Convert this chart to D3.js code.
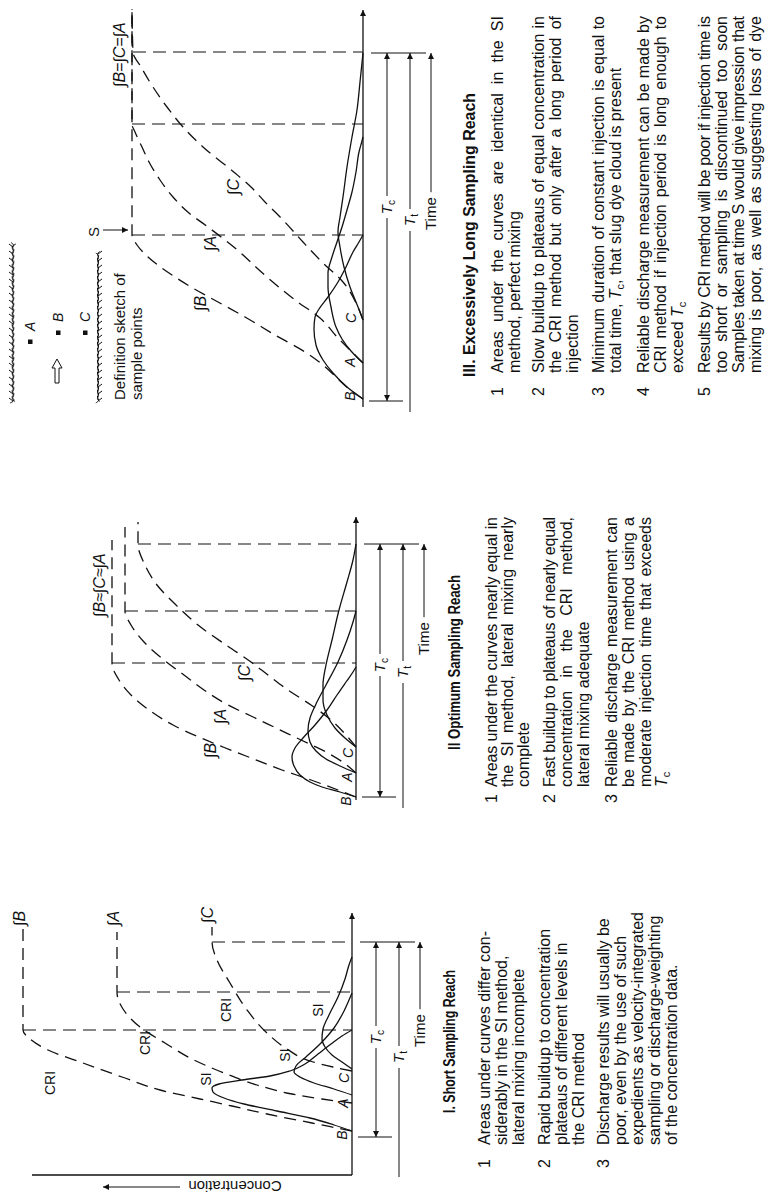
<!DOCTYPE html>
<html>
<head>
<meta charset="utf-8">
<script src="https://cdn.jsdelivr.net/npm/d3@7"></script>
<style>
  html, body { margin: 0; padding: 0; background: #fff; }
  svg { display: block; }
  .ink { fill: none; stroke: #111; stroke-width: 1.3; }
  .cri { stroke-dasharray: 12 7; }
  .drop { fill: none; stroke: #111; stroke-width: 1.1; stroke-dasharray: 13 7; }
  .thin { fill: none; stroke: #111; stroke-width: 1; }
  text { fill: #111; font-family: "Liberation Sans", Arial, Helvetica, sans-serif; }
</style>
</head>
<body>
<svg id="fig" width="765" height="1197"></svg>
<script>
// Each curve is a list of [time, concentration].
// Units are figure units measured from the panel's time-axis origin / baseline.

// ---- I. Short sampling reach ----
const siB1 = [[44,0],[50,18],[57,42],[64,75],[71,108],[77,128],[83,139],[87,140],[91,133],[95,110],[99,82],[104,62],[111,47],[121,34],[131,21],[139,10],[145,0]];
const siA1 = [[80,0],[86,18],[92,38],[98,52],[103,58],[109,56],[118,46],[132,31],[147,18],[162,9],[175,3],[182,0]];
const siC1 = [[106,0],[113,10],[120,20],[128,27],[136,30],[146,29],[160,23],[178,14],[196,7],[210,3],[218,0]];
const criB1 = [[44,0],[52,40],[61,85],[69,120],[76,152],[85,192],[98,230],[112,269],[125,304],[136,322],[145,329],[246,329]];
const criA1 = [[72,0],[76,30],[81,60],[90,95],[102,128],[116,160],[132,187],[148,212],[166,229],[183,235],[243,235]];
const criC1 = [[104,0],[108,19],[114,42],[126,65],[142,85],[165,105],[192,122],[215,135],[233,140],[248,140]];

// ---- II. Optimum sampling reach ----
const siB2 = [[3,0],[8,16],[13,34],[18,46],[25,56],[34,62],[43,64],[52,61],[62,53],[75,41],[90,29],[105,19],[118,10],[128,3],[133,0]];
const siA2 = [[27,0],[34,16],[41,30],[49,40],[58,46],[70,48],[82,46],[96,40],[115,30],[138,18],[160,9],[178,3],[189,0]];
const siC2 = [[53,0],[62,11],[72,21],[85,29],[100,33],[115,33],[135,30],[160,24],[190,17],[218,9],[240,3],[256,0]];
const criB2 = [[3,0],[10,18],[20,45],[30,74],[44,110],[53,133],[62,155],[75,183],[90,207],[105,225],[120,237],[137,244],[260,244]];
const criA2 = [[27,0],[37,12],[48,30],[60,55],[72,80],[84,105],[95,128],[110,152],[125,172],[140,192],[158,212],[175,225],[189,231],[273,231]];
const criC2 = [[53,0],[65,10],[80,25],[95,45],[110,68],[125,88],[138,105],[155,130],[175,158],[195,180],[215,199],[235,211],[256,218],[278,218]];

// ---- III. Excessively long sampling reach ----
const siB3 = [[8,0],[20,16],[34,30],[47,40],[62,47],[78,49],[90,48],[98,44],[110,35],[125,25],[140,17],[155,10],[165,4],[172,0]];
const siA3 = [[44,0],[56,12],[68,21],[80,27],[100,32],[120,35],[134,35],[150,31],[165,26],[180,21],[197,16],[215,11],[235,7],[255,4],[266,1],[270,0]];
const siC3 = [[87,0],[100,5],[120,13],[140,19],[160,23],[175,25],[190,23],[210,20],[240,16],[270,11],[297,6],[325,3],[354,0]];
const criB3 = [[8,0],[18,14],[30,27],[42,40],[55,58],[72,88],[90,118],[105,145],[120,172],[134,194],[150,215],[162,226],[172,231],[398,231]];
const criA3 = [[44,0],[54,10],[69,25],[89,43],[107,68],[130,96],[159,128],[180,155],[194,174],[210,190],[227,203],[245,214],[260,221],[275,228],[283,231],[398,231]];
const criC3 = [[87,0],[102,6],[125,20],[144,40],[165,60],[187,80],[205,98],[220,112],[234,128],[260,160],[280,180],[300,196],[320,210],[340,222],[355,230],[398,231]];

// labels on the plots: [text, time, concentration]
const methodLabels1 = [["CRI",92,302],["SI",96,146],["CRI",132,207],["SI",120,67],["CRI",165,126],["SI",165,34]];
const pointLabels1 = [["B",40,10],["A",72,9],["C",97,8]];
const intLabels1 = [["∫B",249,333],["∫A",249,239],["∫C",252,145]];
const pointLabels2 = [["B",-1,10],["A",23,9],["C",47,8]];
const intLabels2 = [["∫B",42,146],["∫A",76,136],["∫C",119,112],["∫B≈∫C≈∫A",183,257]];
const pointLabels3 = [["B",11,13],["A",45,13],["C",89,12]];
const intLabels3 = [["∫B",96,163],["∫A",156,153],["∫C",212,130],["∫B=∫C=∫A",320,244]];

// notes beside each panel
const notes1 = [
  ["1", "Areas under curves differ con-", "siderably in the SI method,", "lateral mixing incomplete"],
  ["2", "Rapid buildup to concentration", "plateaus of different levels in", "the CRI method"],
  ["3", "Discharge results will usually be", "poor, even by the use of such", "expedients as velocity-integrated", "sampling or discharge-weighting", " of the concentration data."]
];
const notes2 = [
  ["1", "Areas under the curves nearly equal in", "the SI method, lateral mixing nearly", "complete"],
  ["2", "Fast buildup to plateaus of nearly equal", "concentration in the CRI method,", "lateral mixing adequate"],
  ["3", "Reliable discharge measurement can", "be made by the CRI method using a", "moderate injection time that exceeds", "{c}"]
];
const notes3 = [
  ["1", "Areas under the curves are identical in the SI", "method, perfect mixing"],
  ["2", "Slow buildup to plateaus of equal concentration in", "the CRI method but only after a long period of", "injection"],
  ["3", "Minimum duration of constant injection is equal to", "total time, {c}, that slug dye cloud is present"],
  ["4", "Reliable discharge measurement can be made by", "CRI method if injection period is long enough to", "exceed {c}"],
  ["5", "Results by CRI method will be poor if injection time is", "too short or sampling is discontinued too soon", "Samples taken at time S would give impression that", "mixing is poor, as well as suggesting loss of dye"]
];

// ---------------- layout (page is drawn unrotated, then turned) ----------------
const W = 765, H = 1197;
const NARROW = '"Liberation Sans Narrow", "Arial Narrow", "Liberation Sans", sans-serif';

const panels = [
  { u0: 22, tMax: 262, vBase: 352, tcStart: 38, tEnd: 233, ttFrom: -2, tcLab: 138, ttLab: 118, timeLab: 128,
    si: [siB1, siA1, siC1], cri: [criB1, criA1, criC1], methods: methodLabels1, points: pointLabels1, ints: intLabels1,
    title: "I. Short Sampling Reach", titleU: [84, 227], titleV: 455,
    notes: notes1, numU: 29, textU: 52, colW: 0, lastFull: false,
    lineV: [[490,507,524],[550,567,584],[609,626,643,660,677]] },
  { u0: 397, tMax: 283, vBase: 356, tcStart: 3, tEnd: 256, ttFrom: -8, tcLab: 135, ttLab: 128, timeLab: 145,
    si: [siB2, siA2, siC2], cri: [criB2, criA2, criC2], methods: [], points: pointLabels2, ints: intLabels2,
    title: "II  Optimum Sampling Reach", titleU: [447, 622], titleV: 460,
    notes: notes2, numU: 394, textU: 410, colW: 270, lastFull: false,
    lineV: [[497,513,529],[555,572,589],[617,634,651,667]] },
  { u0: 790, tMax: 397, vBase: 363, tcStart: 6, tEnd: 354, ttFrom: -5, tcLab: 200, ttLab: 187, timeLab: 177,
    si: [siB3, siA3, siC3], cri: [criB3, criA3, criC3], methods: [], points: pointLabels3, ints: intLabels3,
    title: "III. Excessively Long Sampling Reach", titleU: [820, 1104], titleV: 475,
    notes: notes3, numU: 801, textU: 824, colW: 357, lastFull: true,
    lineV: [[503,520],[544,561,578],[604,621],[649,666,683],[710,727,744,761]] }
];

const svg = d3.select("#fig");
svg.append("rect").attr("width", W).attr("height", H).attr("fill", "#fff");

const defs = svg.append("defs");
defs.append("marker").attr("id", "ah")
  .attr("viewBox", "0 0 10 10").attr("refX", 10).attr("refY", 5)
  .attr("markerUnits", "userSpaceOnUse").attr("markerWidth", 8).attr("markerHeight", 6)
  .attr("orient", "auto-start-reverse")
  .append("path").attr("d", "M0,0 L10,5 L0,10 Z").attr("fill", "#111");

// the whole figure is printed sideways
const g = svg.append("g").attr("transform", `translate(0,${H}) rotate(-90)`);

function subT(sel, u, v, sub, size) {
  const t = sel.append("text").attr("x", u).attr("y", v).attr("text-anchor", "middle").attr("font-size", size);
  t.append("tspan").attr("font-style", "italic").text("T");
  t.append("tspan").attr("font-size", size * 0.68).attr("dy", 3).text(sub);
  return t;
}

function noteLine(sel, u, v, str, target) {
  const t = sel.append("text").attr("x", u).attr("y", v).attr("font-size", 16);
  const parts = str.split(/(\{c\})/);
  let lowered = false;
  parts.forEach(s => {
    if (!s) return;
    if (s === "{c}") {
      t.append("tspan").attr("font-style", "italic").attr("dy", lowered ? -3 : null).text("T");
      t.append("tspan").attr("font-size", 11).attr("dy", 3).text("c");
      lowered = true;
    } else {
      t.append("tspan").attr("dy", lowered ? -3 : null).text(s);
      lowered = false;
    }
  });
  if (target) {
    // justify: widen word gaps, or tighten letters when the line is too long
    const natural = t.node().getComputedTextLength();
    const gaps = (str.match(/ /g) || []).length;
    if (natural < target && gaps > 0) {
      t.style("word-spacing", ((target - natural) / gaps) + "px");
    } else if (natural > target) {
      t.style("letter-spacing", ((target - natural) / (str.length - 1)) + "px");
    }
  }
}

panels.forEach(p => {
  const x = d3.scaleLinear().domain([0, p.tMax]).range([p.u0, p.u0 + p.tMax]);
  const y = d3.scaleLinear().domain([0, 100]).range([p.vBase, p.vBase - 100]);
  const line = d3.line().x(d => x(d[0])).y(d => y(d[1])).curve(d3.curveMonotoneX);
  const pg = g.append("g");

  // time axis
  pg.append("line").attr("class", "ink").attr("stroke-width", 1.2)
    .attr("x1", x(0)).attr("x2", x(p.tMax)).attr("y1", y(0)).attr("y2", y(0))
    .attr("marker-end", "url(#ah)");

  // drop lines from the start of each CRI plateau
  p.cri.forEach(c => {
    const k = c[c.length - 2];
    pg.append("line").attr("class", "drop")
      .attr("x1", x(k[0])).attr("x2", x(k[0])).attr("y1", y(k[1])).attr("y2", y(0));
  });

  // CRI (dashed) and SI (solid) curves
  pg.selectAll("path.cri").data(p.cri).join("path")
    .attr("class", "ink cri").attr("d", line);
  pg.selectAll("path.si").data(p.si).join("path")
    .attr("class", "ink si").attr("d", line);

  // plot labels
  pg.selectAll("text.method").data(p.methods).join("text").attr("class", "method")
    .attr("x", d => x(d[1])).attr("y", d => y(d[2])).attr("dy", "0.36em")
    .attr("text-anchor", "middle").attr("font-size", 14).style("font-family", NARROW)
    .text(d => d[0]);
  pg.selectAll("text.pt").data(p.points).join("text").attr("class", "pt")
    .attr("x", d => x(d[1])).attr("y", d => y(d[2])).attr("dy", "0.36em")
    .attr("text-anchor", "middle").attr("font-size", 14).attr("font-style", "italic")
    .text(d => d[0]);
  pg.selectAll("text.int").data(p.ints).join("text").attr("class", "int")
    .attr("x", d => x(d[1])).attr("y", d => y(d[2])).attr("dy", "0.36em")
    .attr("font-size", 16).attr("font-style", "italic")
    .text(d => d[0]);

  // Tc / Tt / Time dimension lines
  const vTc = p.vBase + 24, vTt = p.vBase + 47, vTime = p.vBase + 68, gap = 11;
  pg.append("line").attr("class", "thin").attr("x1", x(p.tcStart)).attr("x2", x(p.tcStart))
    .attr("y1", p.vBase + 6).attr("y2", p.vBase + 40);
  pg.append("line").attr("class", "thin").attr("x1", x(p.tEnd)).attr("x2", x(p.tEnd))
    .attr("y1", p.vBase + 8).attr("y2", p.vBase + 63);
  pg.append("line").attr("class", "thin").attr("x1", x(p.tcLab) - gap).attr("x2", x(p.tcStart))
    .attr("y1", vTc).attr("y2", vTc).attr("marker-end", "url(#ah)");
  pg.append("line").attr("class", "thin").attr("x1", x(p.tcLab) + gap).attr("x2", x(p.tEnd))
    .attr("y1", vTc).attr("y2", vTc).attr("marker-end", "url(#ah)");
  subT(pg, x(p.tcLab), vTc + 5, "c", 15);
  pg.append("line").attr("class", "thin").attr("x1", x(p.ttFrom)).attr("x2", x(p.ttLab) - gap)
    .attr("y1", vTt).attr("y2", vTt);
  pg.append("line").attr("class", "thin").attr("x1", x(p.ttLab) + gap).attr("x2", x(p.tEnd))
    .attr("y1", vTt).attr("y2", vTt).attr("marker-end", "url(#ah)");
  subT(pg, x(p.ttLab), vTt + 5, "t", 15);
  const tl = pg.append("text").attr("x", x(p.timeLab)).attr("y", vTime + 5).attr("font-size", 15).text("Time");
  const tw = tl.node().getComputedTextLength();
  pg.append("line").attr("class", "thin").attr("x1", x(p.timeLab) + tw + 5).attr("x2", x(p.tEnd))
    .attr("y1", vTime).attr("y2", vTime).attr("marker-end", "url(#ah)");

  // panel heading
  pg.append("text").attr("x", p.titleU[0]).attr("y", p.titleV)
    .attr("font-size", 16).attr("font-weight", "bold").style("font-family", NARROW)
    .attr("textLength", p.titleU[1] - p.titleU[0]).attr("lengthAdjust", "spacingAndGlyphs")
    .text(p.title);

  // numbered notes
  p.notes.forEach((para, i) => {
    const vs = p.lineV[i];
    const lastPara = i === p.notes.length - 1;
    pg.append("text").attr("x", p.numU).attr("y", vs[0]).attr("font-size", 16).text(para[0]);
    para.slice(1).forEach((ln, j) => {
      const last = j === para.length - 2;
      const target = p.colW && (!last || (p.lastFull && lastPara)) ? p.colW : 0;
      noteLine(pg, p.textU, vs[j], ln, target);
    });
  });
});

// concentration axis (panel I only) and its label
g.append("line").attr("class", "ink").attr("stroke-width", 1.2)
  .attr("x1", 22).attr("x2", 22).attr("y1", 352).attr("y2", 32);
g.append("text").attr("transform", "translate(16,235) rotate(-90)")
  .attr("text-anchor", "middle").attr("font-size", 15).text("Concentration");
g.append("line").attr("class", "thin").attr("x1", 10).attr("x2", 10).attr("y1", 180).attr("y2", 103)
  .attr("marker-end", "url(#ah)");

// S marker in panel III
g.append("text").attr("x", 965).attr("y", 99).attr("text-anchor", "middle").attr("font-size", 15).text("S");
g.append("line").attr("class", "thin").attr("x1", 967).attr("x2", 967).attr("y1", 103).attr("y2", 128)
  .attr("marker-end", "url(#ah)");

// definition sketch of sample points
const sk = g.append("g");
function bank(v, u1, u2, amp, hatch) {
  const pts1 = [], pts2 = [];
  for (let u = u1, k = 0; u <= u2; u += 3, k++) {
    pts1.push([u, v + (k % 2 ? amp : -amp)]);
    pts2.push([u + 1.5, v + (k % 2 ? -amp : amp) * 0.7]);
  }
  const l = d3.line().curve(d3.curveBasis);
  sk.append("path").attr("class", "thin").attr("stroke-width", 1.2).attr("d", l(pts1));
  sk.append("path").attr("class", "thin").attr("stroke-width", 0.9).attr("d", l(pts2));
  if (hatch) {
    for (let u = u1 + 2; u < u2; u += 7) {
      sk.append("line").attr("class", "thin").attr("stroke-width", 0.8)
        .attr("x1", u).attr("x2", u + 3).attr("y1", v).attr("y2", v + hatch);
    }
  }
}
bank(13, 794, 955, 2.8, -4);
bank(98, 794, 945, 2.2, 4);
[["A", 855, 30], ["B", 864, 58], ["C", 864, 85]].forEach(d => {
  sk.append("rect").attr("x", d[1] - 2).attr("y", d[2] - 2).attr("width", 4.5).attr("height", 4.5).attr("fill", "#111");
  sk.append("text").attr("x", d[1] + 11).attr("y", d[2] + 5).attr("font-size", 14).attr("font-style", "italic").text(d[0]);
});
sk.append("path").attr("class", "thin")
  .attr("d", "M814,55 L829,55 L829,52 L838,57 L829,62 L829,59 L814,59 Z");
sk.append("text").attr("x", 797).attr("y", 125).attr("font-size", 15).text("Definition sketch of");
sk.append("text").attr("x", 797).attr("y", 142).attr("font-size", 15).text("sample points");
</script>
</body>
</html>
